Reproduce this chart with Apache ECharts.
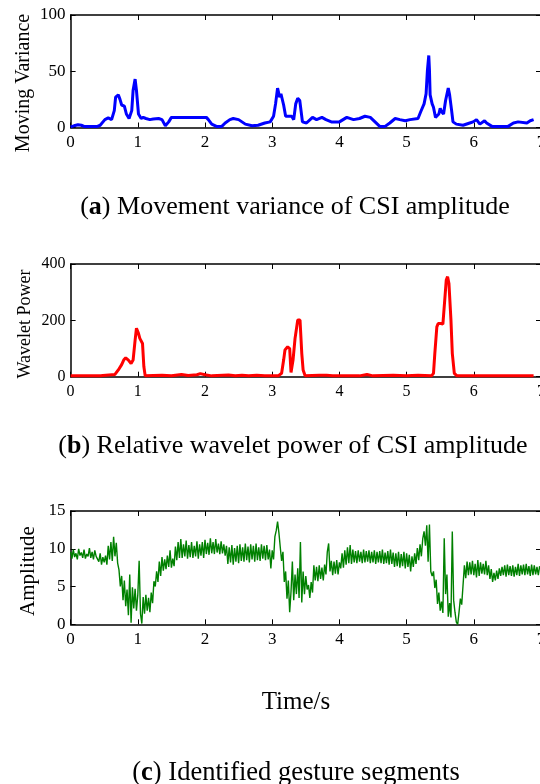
<!DOCTYPE html>
<html>
<head>
<meta charset="utf-8">
<script src="https://cdn.jsdelivr.net/npm/echarts@6/dist/echarts.min.js"></script>
<style>html,body{margin:0;padding:0;background:#fff;}#chart{width:540px;height:784px;}</style>
</head>
<body>
<div id="chart"></div>
<script>
// ---- Panel (a): moving variance ----
const varTime = [0.00,0.05,0.11,0.16,0.20,0.30,0.40,0.44,0.51,0.56,0.61,0.65,0.67,0.69,0.71,0.735,0.76,0.80,0.83,0.87,0.91,0.93,0.96,0.98,1.01,1.05,1.08,1.12,1.18,1.23,1.31,1.36,1.41,1.46,1.50,1.60,1.80,2.02,2.05,2.10,2.17,2.25,2.30,2.37,2.42,2.50,2.60,2.70,2.79,2.89,2.97,3.02,3.05,3.08,3.11,3.13,3.17,3.20,3.24,3.29,3.32,3.35,3.38,3.41,3.45,3.51,3.60,3.66,3.74,3.80,3.88,4.00,4.11,4.21,4.30,4.38,4.46,4.53,4.60,4.68,4.75,4.83,4.90,4.98,5.05,5.17,5.21,5.26,5.29,5.31,5.33,5.34,5.35,5.38,5.40,5.43,5.48,5.50,5.52,5.55,5.58,5.62,5.64,5.67,5.69,5.74,5.84,5.94,5.99,6.04,6.09,6.16,6.19,6.27,6.40,6.51,6.59,6.66,6.79,6.84,6.89];
const varValue = [0.5,1.5,2.5,2,1,1,1,2,7,8.5,7,15,27,28,29,25,20,19,12,8,15,33,43,33,12,8,9,8,7,7.5,8,7,1.5,5,9,9,9,9,7,3,1,1,4,7,8,7,3,1.5,2,4,5,10,21,35,27,30,20,10,10,10,7,21,26,24,5,4,9,7,9,7,5,5,9,7,8,10,9,5,1,1,4,8,7,6,7,8,14,21,30,51,64,51,29,21,18,9,12,17,14,12,24,35,29,15,5,3,2,4,5,7,3,6,4,1,1,1,4,5,4,6,7];

// ---- Panel (b): relative wavelet power ----
const powTime = [0,0.45,0.48,0.66,0.71,0.76,0.79,0.82,0.86,0.90,0.93,0.96,0.98,1.01,1.03,1.07,1.09,1.11,1.36,1.50,1.65,1.75,1.88,1.93,2.00,2.10,2.35,2.45,2.55,2.65,2.77,2.89,3.09,3.14,3.17,3.19,3.23,3.26,3.28,3.31,3.34,3.38,3.40,3.414,3.44,3.46,3.49,3.70,3.81,3.90,4.00,4.30,4.41,4.50,4.80,5.00,5.17,5.37,5.40,5.42,5.45,5.47,5.51,5.54,5.56,5.59,5.61,5.63,5.66,5.68,5.71,5.75,6.89];
const powValue = [3,3,4,8,24,43,59,67,59,47,59,130,172,154,136,118,36,3,5,3,8,4,7,11,7,3,6,3,5,3,5,3,3,12,59,95,106,100,15,59,136,201,207,201,83,24,3,5,5,3,3,3,8,3,5,3,5,3,12,83,177,189,189,187,249,343,355,331,201,83,12,3,3];

// ---- Panel (c): CSI amplitude, sampled every 0.02 s from t = 0 ----
const ampStart = 0;
const ampStep = 0.02;
const ampValue = [
 9.6,8.7,9.9,8.9,9.4,8.6,10.0,9.1,9.5,8.8,9.9,8.7,9.3,9.0,10.1,8.8,9.6,8.6,9.8,9.0,9.2,8.3,9.4,7.9,8.9,
 8.2,9.1,7.9,10.4,8.6,10.9,8.4,11.6,9.0,10.8,8.1,7.2,5.0,6.4,3.2,5.8,2.4,4.6,1.2,6.6,0.2,4.9,2.1,4.7,1.8,
 3.9,8.4,1.4,0.1,3.6,1.4,3.9,1.8,3.5,1.6,4.2,2.8,5.7,5.0,7.0,5.6,8.3,6.4,8.9,7.1,8.6,7.3,9.1,7.6,9.8,
 7.5,8.7,7.7,10.3,8.5,10.9,8.8,11.3,8.8,10.6,9.0,11.1,8.7,10.5,8.9,10.9,8.8,10.4,9.0,11.0,8.7,10.6,9.1,10.9,8.8,
 11.2,9.3,10.8,9.2,11.4,9.4,10.9,9.3,11.3,9.5,10.7,9.3,11.0,9.4,10.6,9.1,10.4,8.0,10.2,8.2,10.5,7.9,10.1,8.3,10.4,
 8.1,10.6,8.4,10.2,8.3,10.7,8.5,10.3,8.2,10.6,8.6,10.4,8.3,10.7,8.5,10.2,8.4,10.6,8.7,10.4,8.5,10.5,8.6,9.9,7.4,
 9.8,8.6,11.6,12.4,13.6,12.1,10.2,8.4,9.6,5.6,7.0,3.4,5.8,1.6,4.3,8.3,3.2,6.6,4.0,7.4,3.5,10.9,2.9,7.0,4.0,
 6.4,4.6,5.2,3.5,5.6,4.2,7.8,5.8,7.6,5.7,7.8,6.0,7.5,5.8,7.9,6.6,9.6,10.7,7.0,8.4,6.5,8.3,6.7,8.5,6.6,
 8.2,7.4,9.4,7.5,9.8,7.9,10.2,8.1,10.5,8.0,9.9,8.2,9.7,8.1,9.8,8.3,9.6,8.1,9.9,8.2,9.7,8.3,9.8,8.1,9.6,
 8.2,9.8,8.0,9.6,8.2,9.7,8.1,9.9,8.0,9.5,8.1,9.7,7.9,9.9,8.0,9.5,7.6,9.4,7.7,9.6,7.5,9.3,7.7,9.6,7.4,
 9.4,7.6,9.2,7.0,9.0,7.6,9.4,8.0,10.1,8.5,10.6,9.0,11.3,12.3,10.4,13.1,8.3,13.2,7.0,6.4,7.0,4.8,5.9,2.7,4.2,
 1.8,3.0,1.5,11.4,4.0,6.6,1.0,2.8,0.9,12.3,3.2,1.6,0.3,0.0,1.6,3.4,2.6,5.2,7.8,6.1,8.3,6.5,8.2,6.6,8.4,
 6.5,8.0,6.2,8.5,6.4,8.2,6.7,8.0,6.6,8.4,6.5,7.8,6.0,7.3,5.6,6.8,5.8,7.1,6.0,7.4,6.4,7.6,6.5,7.8,6.3,
 7.9,6.5,7.7,6.4,7.8,6.3,7.6,6.5,8.0,6.4,7.8,6.6,7.9,6.5,8.0,6.6,7.7,6.4,7.9,6.5,7.8,6.6,7.6,6.5,7.7
];

// ---- Axis ranges / tick labels ----
const xTicks = [0, 7, 1];        // min, max, interval (seconds)
const yRanges = [[0, 100, 50], [0, 400, 200], [0, 15, 5]];
const yNames = ['Moving Variance', 'Wavelet Power', 'Amplitude'];
const captionLetters = ['a', 'b', 'c'];
const captionTexts = [' Movement variance of CSI amplitude', ' Relative wavelet power of CSI amplitude', ' Identified gesture segments'];
const xName = 'Time/s';

const zip = (t, v) => t.map((x, i) => [x, v[i]]);
const ampData = ampValue.map((v, i) => [ampStart + i * ampStep, v]);

const FONT = 'Liberation Serif';
const grids = [
  {left: 70.6, width: 470.4, top: 15, height: 112.5, outerBoundsMode: 'none', containLabel: false},
  {left: 70.6, width: 470.4, top: 264, height: 112.7, outerBoundsMode: 'none', containLabel: false},
  {left: 70.6, width: 470.4, top: 511, height: 113.3, outerBoundsMode: 'none', containLabel: false}
];
const labelSizes = [17, 16, 17];

const xAxes = [], yAxes = [];
grids.forEach((g, i) => {
  const common = {
    gridIndex: i, type: 'value', min: xTicks[0], max: xTicks[1], interval: xTicks[2],
    axisLine: {show: true, onZero: false, lineStyle: {color: '#000', width: 1.5}},
    axisTick: {show: true, inside: true, length: 5, lineStyle: {color: '#000', width: 1}},
    splitLine: {show: false}
  };
  xAxes.push(Object.assign({}, common, {position: 'bottom',
    axisLabel: {show: true, color: '#000', fontFamily: FONT, fontSize: labelSizes[i], margin: 7, showMaxLabel: true, showMinLabel: true}}));
  xAxes.push(Object.assign({}, common, {position: 'top', axisLabel: {show: false}}));
  const yc = {
    gridIndex: i, type: 'value', min: yRanges[i][0], max: yRanges[i][1], interval: yRanges[i][2],
    axisLine: {show: true, onZero: false, lineStyle: {color: '#000', width: 1.5}},
    axisTick: {show: true, inside: true, length: 5, lineStyle: {color: '#000', width: 1}},
    splitLine: {show: false}
  };
  yAxes.push(Object.assign({}, yc, {position: 'left',
    axisLabel: {show: true, color: '#000', fontFamily: FONT, fontSize: labelSizes[i], margin: 5}}));
  yAxes.push(Object.assign({}, yc, {position: 'right', axisLabel: {show: false}}));
});

const series = [
  {type: 'line', xAxisIndex: 0, yAxisIndex: 0, data: zip(varTime, varValue), showSymbol: false, smooth: false,
   lineStyle: {color: '#0000ff', width: 3}, itemStyle: {color: '#0000ff'}, animation: false},
  {type: 'line', xAxisIndex: 2, yAxisIndex: 2, data: zip(powTime, powValue), showSymbol: false,
   lineStyle: {color: '#ff0000', width: 3}, itemStyle: {color: '#ff0000'}, animation: false},
  {type: 'line', xAxisIndex: 4, yAxisIndex: 4, data: ampData, showSymbol: false,
   lineStyle: {color: '#008000', width: 1.4}, itemStyle: {color: '#008000'}, animation: false}
];

const yNamePos = [[24, 83, 20], [25, 324, 18], [28, 571, 21]];
const capPos = [[295, 207], [293, 446], [296, 773]];
const capSizes = [26, 26, 26.5];
const graphic = [];
yNames.forEach((n, i) => {
  graphic.push({type: 'text', x: yNamePos[i][0], y: yNamePos[i][1], rotation: Math.PI / 2,
    style: {text: n, fill: '#000', font: yNamePos[i][2] + 'px "' + FONT + '"', textAlign: 'center', textVerticalAlign: 'middle'}});
});
captionLetters.forEach((l, i) => {
  graphic.push({type: 'text', x: capPos[i][0], y: capPos[i][1],
    style: {text: '{n|(}{b|' + l + '}{n|)' + captionTexts[i] + '}', textAlign: 'center', textVerticalAlign: 'middle',
      rich: {n: {fontFamily: FONT, fontSize: capSizes[i], fill: '#000'}, b: {fontFamily: FONT, fontSize: capSizes[i], fontWeight: 'bold', fill: '#000'}}}});
});
graphic.push({type: 'text', x: 296, y: 702,
  style: {text: xName, fill: '#000', font: '25px "' + FONT + '"', textAlign: 'center', textVerticalAlign: 'middle'}});

const chart = echarts.init(document.getElementById('chart'), null, {renderer: 'canvas'});
chart.setOption({
  backgroundColor: '#fff',
  animation: false,
  grid: grids,
  xAxis: xAxes,
  yAxis: yAxes,
  series: series,
  graphic: graphic
});
</script>
</body>
</html>
